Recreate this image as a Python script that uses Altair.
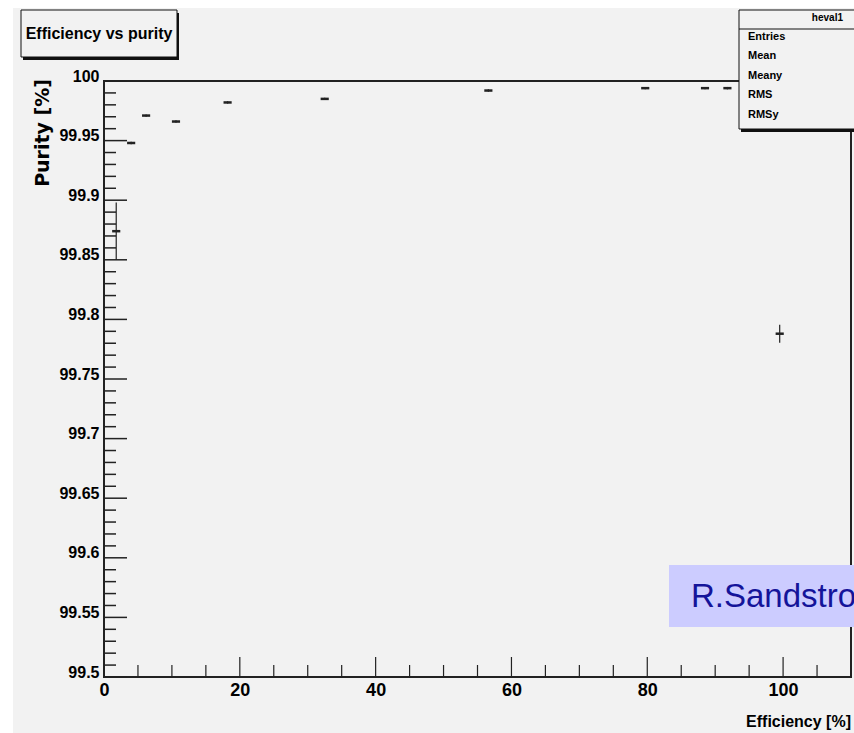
import altair as alt
import pandas as pd

# Efficiency / purity working points
efficiency = [1.8, 4.0, 6.2, 10.6, 18.2, 32.5, 56.6, 79.7, 88.5, 91.8, 99.5]
purity = [99.874, 99.948, 99.971, 99.966, 99.982, 99.985, 99.992, 99.994, 99.994, 99.994, 99.788]
efficiency_err = [0.6, 0.6, 0.6, 0.6, 0.6, 0.6, 0.6, 0.6, 0.6, 0.6, 0.6]
purity_err = [0.024, 0.001, 0.001, 0.001, 0.001, 0.001, 0.001, 0.001, 0.001, 0.001, 0.0075]

# Axis ticks
x_major = [0, 20, 40, 60, 80, 100]
x_minor = [5, 10, 15, 25, 30, 35, 45, 50, 55, 65, 70, 75, 85, 90, 95, 105]
y_major = [99.5, 99.55, 99.6, 99.65, 99.7, 99.75, 99.8, 99.85, 99.9, 99.95, 100.0]
y_minor = [round(99.5 + 0.01 * i, 2) for i in range(51) if i % 5 != 0]

stat_rows = ["Entries", "Mean", "Meany", "RMS", "RMSy"]
stat_y = [-44.5, -25, -5.5, 14, 33.5]

W, H = 747, 596
FONT = "Liberation Sans, Arial, sans-serif"
BG = "#f2f2f2"
INK = "#222222"

df = pd.DataFrame({
    "eff": efficiency,
    "pur": purity,
})
df["eff_lo"] = [e - d for e, d in zip(efficiency, efficiency_err)]
df["eff_hi"] = [e + d for e, d in zip(efficiency, efficiency_err)]
df["pur_lo"] = [p - d for p, d in zip(purity, purity_err)]
df["pur_hi"] = [p + d for p, d in zip(purity, purity_err)]

xs = alt.Scale(domain=[0, 110], nice=False, zero=False)
ys = alt.Scale(domain=[99.5, 100.0], nice=False, zero=False)

xaxis = alt.Axis(title=None, values=x_major, ticks=False, domain=False, grid=False,
                 labelFont=FONT, labelFontSize=18, labelFontWeight="bold",
                 labelColor="black", labelPadding=4, labelFlush=False, zindex=1)
yaxis = alt.Axis(title=None, values=y_major, format="~g", ticks=False, domain=False, grid=False,
                 labelFont=FONT, labelFontSize=16, labelFontWeight="bold",
                 labelColor="black", labelPadding=5, labelOffset=-5, labelFlush=False,
                 zindex=1)

one = pd.DataFrame({"k": [0]})


def box(x0, x1, y0, y1, **kw):
    return alt.Chart(one).mark_rect(clip=False, **kw).encode(
        x=alt.value(x0), x2=alt.value(x1), y=alt.value(y0), y2=alt.value(y1))


def label(text, x, y, **kw):
    return alt.Chart(one).mark_text(text=text, clip=False, **kw).encode(
        x=alt.value(x), y=alt.value(y))


# white border along the top and left of the canvas
edge_top = box(-104, 760, -81, -73, fill="white")
edge_left = box(-104, -91, -81, 660, fill="white")

# error bars
hbars = alt.Chart(df).mark_rule(color=INK, strokeWidth=2.5).encode(
    x=alt.X("eff_lo:Q", scale=xs, axis=xaxis), x2="eff_hi:Q",
    y=alt.Y("pur:Q", scale=ys, axis=yaxis))
vbars = alt.Chart(df).mark_rule(color=INK, strokeWidth=1.2).encode(
    x=alt.X("eff:Q", scale=xs, axis=xaxis),
    y=alt.Y("pur_lo:Q", scale=ys, axis=yaxis), y2="pur_hi:Q")

# inward ticks
ytick_major = alt.Chart(pd.DataFrame({"v": y_major})).mark_rule(color=INK, strokeWidth=1.5).encode(
    y=alt.Y("v:Q", scale=ys, axis=yaxis), x=alt.value(0), x2=alt.value(23))
ytick_minor = alt.Chart(pd.DataFrame({"v": y_minor})).mark_rule(color=INK, strokeWidth=1.5).encode(
    y=alt.Y("v:Q", scale=ys, axis=yaxis), x=alt.value(0), x2=alt.value(12))
xtick_major = alt.Chart(pd.DataFrame({"v": x_major})).mark_rule(color=INK, strokeWidth=1.2).encode(
    x=alt.X("v:Q", scale=xs, axis=xaxis), y=alt.value(H), y2=alt.value(H - 20))
xtick_minor = alt.Chart(pd.DataFrame({"v": x_minor})).mark_rule(color=INK, strokeWidth=1.2).encode(
    x=alt.X("v:Q", scale=xs, axis=xaxis), y=alt.value(H), y2=alt.value(H - 12))

# axis titles
ytitle = label("Purity [%]", -61, -2, angle=270, align="right", baseline="middle",
               font="DejaVu Sans", fontSize=19, fontWeight="bold", color="black")
xtitle = label("Efficiency [%]", 747, 646, align="right", baseline="alphabetic",
               font=FONT, fontSize=16, fontWeight="bold", color="black")

# title box
title_shadow = box(-81, 75, -68, -21, fill="#111111")
title_box = box(-83, 73, -71, -24, fill=BG, stroke="#111111", strokeWidth=1)
title_text = label("Efficiency vs purity", -5, -47, align="center", baseline="middle",
                   font=FONT, fontSize=16, fontWeight="bold", color="black")

# statistics box
stats_shadow = box(637, 770, -69, 51, fill="#111111")
stats_box = box(635, 770, -71, 48, fill=BG, stroke="#111111", strokeWidth=1)
stats_div = alt.Chart(one).mark_rule(color="#111111", strokeWidth=1, clip=False).encode(
    x=alt.value(635), x2=alt.value(770), y=alt.value(-52))
stats_name = label("heval1", 739, -63, align="right", baseline="middle",
                   font=FONT, fontSize=10, fontWeight="bold", color="black")
stats_rows = alt.Chart(pd.DataFrame({"row": stat_rows, "yy": stat_y})).mark_text(
    align="left", baseline="middle", font=FONT, fontSize=11, fontWeight="bold",
    color="black", clip=False).encode(
    text="row:N", x=alt.value(644), y=alt.Y("yy:Q", scale=None))

# author tag
tag_box = box(565, 770, 484, 546, fill="#ccccff")
tag_text = label("R.Sandstrom", 587, 526, align="left", baseline="alphabetic",
                 font=FONT, fontSize=33, color="#14149a")

chart = alt.layer(
    edge_top, edge_left,
    ytick_minor, ytick_major, xtick_minor, xtick_major,
    vbars, hbars,
    tag_box, tag_text,
    ytitle, xtitle,
    title_shadow, title_box, title_text,
    stats_shadow, stats_box, stats_div, stats_name, stats_rows,
).properties(
    width=W, height=H,
    autosize=alt.AutoSizeParams(type="none"),
    padding={"left": 104, "top": 81, "right": 3, "bottom": 56},
    background=BG,
).configure_view(stroke=INK, strokeWidth=2, fill=None)

chart.save("out.html", embed_options={"renderer": "svg", "actions": False})
